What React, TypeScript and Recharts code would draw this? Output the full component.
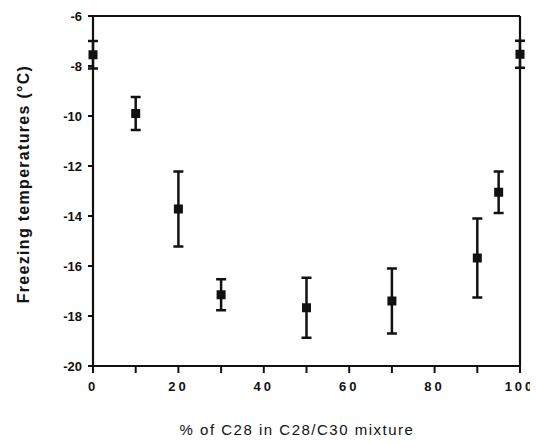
import React from "react";
import {
  ErrorBar,
  ReferenceLine,
  Scatter,
  ScatterChart,
  XAxis,
  YAxis,
} from "recharts";

// % of C28 in the C28/C30 mixture
const fractions = [0, 10, 20, 30, 50, 70, 90, 95, 100];
// mean freezing temperature, °C
const freezingTemps = [-7.55, -9.9, -13.72, -17.15, -17.67, -17.4, -15.68, -13.05, -7.53];
// half-width of the error bar, °C
const spreads = [0.55, 0.66, 1.5, 0.62, 1.2, 1.3, 1.58, 0.83, 0.54];

const xTicks = [0, 10, 20, 30, 40, 50, 60, 70, 80, 90, 100];
const yTicks = [-20, -18, -16, -14, -12, -10, -8, -6];

const points = fractions.map((x, i) => ({
  x,
  y: freezingTemps[i],
  err: spreads[i],
}));

const INK = "#111";
const FONT = "'Liberation Sans', Arial, Helvetica, sans-serif";

function SquareMark(props: any) {
  const { cx, cy } = props;
  if (cx == null || cy == null) return null;
  return <rect x={cx - 4.5} y={cy - 4.5} width={9} height={9} fill={INK} />;
}

export default function App() {
  return (
    <div style={{ width: 530, height: 436, background: "#fff" }}>
      <ScatterChart
        width={530}
        height={436}
        margin={{ top: 8, right: 18, left: 0, bottom: 0 }}
      >
        <XAxis
          type="number"
          dataKey="x"
          domain={[0, 100]}
          ticks={xTicks}
          interval={0}
          height={78}
          tickSize={7}
          tickMargin={9}
          tickFormatter={(v: number) => (v % 20 === 0 ? String(v) : "")}
          axisLine={{ stroke: INK, strokeWidth: 2.2 }}
          tickLine={{ stroke: INK, strokeWidth: 2 }}
          tick={{ fill: INK, fontSize: 13, fontWeight: 700, fontFamily: FONT, letterSpacing: 3 }}
          label={{
            content: () => (
              <text
                x={289}
                y={427}
                textAnchor="middle"
                fill={INK}
                fontSize={15}
                fontFamily={FONT}
                letterSpacing={1.5}
              >
                % of C28 in C28/C30 mixture
              </text>
            ),
          }}
        />
        <YAxis
          type="number"
          dataKey="y"
          domain={[-20, -6]}
          ticks={yTicks}
          interval={0}
          width={85}
          tickSize={5}
          tickMargin={6}
          axisLine={{ stroke: INK, strokeWidth: 2.2 }}
          tickLine={{ stroke: INK, strokeWidth: 2 }}
          tick={{ fill: INK, fontSize: 13, fontWeight: 700, fontFamily: FONT }}
          label={{
            content: () => (
              <text
                x={21}
                y={176}
                transform="rotate(-90 21 176)"
                textAnchor="middle"
                fill={INK}
                fontSize={16}
                fontWeight={700}
                fontFamily={FONT}
                letterSpacing={1.3}
              >
                Freezing temperatures (°C)
              </text>
            ),
          }}
        />
        {/* closed frame: top and right edges */}
        <ReferenceLine y={-6} stroke={INK} strokeWidth={2.2} />
        <ReferenceLine x={100} stroke={INK} strokeWidth={2.2} />
        <Scatter data={points} shape={<SquareMark />} isAnimationActive={false}>
          <ErrorBar
            dataKey="err"
            direction="y"
            width={5}
            stroke={INK}
            strokeWidth={2.5}
            isAnimationActive={false}
          />
        </Scatter>
      </ScatterChart>
    </div>
  );
}
